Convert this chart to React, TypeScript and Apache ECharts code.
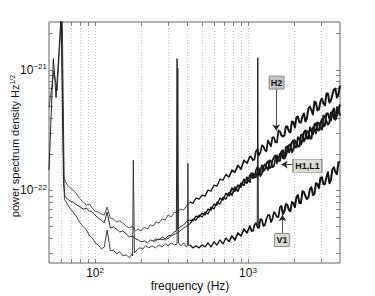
import React, { useEffect, useRef } from 'react';
import * as echarts from 'echarts';

// ---------- axes ----------
const X_MIN = 50;
const X_MAX = 4000;
const Y_MIN = 2.5e-23;
const Y_MAX = 2.5e-21;
const UNIT = 1e-23; // all ASD values below are in units of 1e-23 Hz^-1/2

const X_TICKS = [100, 1000];
const Y_TICKS = [1e-22, 1e-21];
const GRID_X = [60, 70, 80, 90, 100, 200, 300, 400, 500, 600, 700, 800, 900, 1000, 2000, 3000];
const GRID_Y = [3e-23, 4e-23, 5e-23, 6e-23, 7e-23, 8e-23, 9e-23, 1e-22, 2e-22, 3e-22, 4e-22, 5e-22, 6e-22, 7e-22, 8e-22, 9e-22, 1e-21, 2e-21];

// ---------- data: low-frequency parts ----------
const H2_LF_F = [50, 53.9, 56.5, 60.3, 62.5, 66, 69, 72, 76, 80, 84, 88, 92, 96, 100, 105, 110, 115, 120, 126, 132, 138, 145, 152, 160, 168, 176, 184, 192, 200, 210, 220, 230, 240, 250, 262, 275, 288, 300, 315, 330, 345, 360, 380, 400];
const H2_LF_V = [48.8, 98.6, 67.4, 281, 12.64, 11.06, 10.45, 10.06, 9.32, 8.47, 8.0, 7.56, 7.71, 7.14, 6.74, 6.62, 6.37, 6.25, 7.28, 5.9, 5.79, 5.47, 5.58, 5.37, 5.07, 4.88, 5.07, 4.61, 4.79, 4.61, 4.97, 4.79, 5.17, 5.07, 5.47, 5.37, 5.79, 5.68, 6.25, 6.02, 6.62, 6.49, 7.01, 6.87, 7.56];

const H1_LF_F = [50, 53.4, 55.6, 60, 62.2, 63.5, 66, 69, 72, 76, 80, 84, 88, 92, 96, 100, 105, 110, 115, 120, 126, 132, 138, 145, 152, 160, 168, 176, 184, 192, 200, 210, 220, 230, 240, 250, 262, 275, 288, 300, 315, 330, 340, 344, 348, 360, 380, 400];
const H1_LF_V = [14.72, 124, 59.0, 281, 11.49, 8.97, 8.47, 8.16, 8.0, 7.56, 7.28, 7.01, 7.14, 6.74, 6.62, 6.25, 5.9, 5.68, 5.37, 6.62, 4.88, 4.97, 4.79, 4.52, 4.61, 4.35, 4.11, 4.19, 3.96, 3.88, 3.74, 3.81, 3.67, 3.88, 3.81, 3.96, 3.88, 4.11, 3.96, 4.19, 4.27, 4.52, 4.61, 124, 4.79, 4.97, 5.17, 5.58];

const L1_LF_F = [240, 262, 288, 315, 345, 380, 400];
const L1_LF_V = [3.74, 3.96, 3.88, 4.19, 4.44, 4.88, 5.07];

const V1_LF_F = [61, 63, 66, 69, 72, 76, 80, 84, 88, 92, 96, 100, 105, 110, 115, 120, 126, 132, 138, 145, 152, 160, 168, 174, 176, 178, 181, 188, 196, 205, 215, 225, 236, 248, 262, 275, 288, 300, 315, 330, 344, 348, 352, 365, 380, 395, 403, 405, 408];
const V1_LF_V = [300, 8.47, 7.71, 7.01, 6.62, 6.02, 5.37, 4.97, 4.7, 4.19, 4.04, 3.67, 3.53, 3.27, 3.4, 4.7, 3.15, 3.21, 2.98, 3.09, 2.87, 2.92, 2.76, 2.98, 2.87, 17.8, 3.03, 3.21, 3.34, 3.27, 3.47, 3.34, 3.47, 3.34, 3.53, 3.4, 3.6, 3.47, 3.67, 3.53, 3.6, 104, 3.67, 3.47, 3.67, 3.4, 3.53, 16.81, 3.47];

// ---------- data: high-frequency noisy parts ----------
const F_HF = [418, 437, 457, 479, 501, 524, 548, 573, 600, 627, 656, 687, 718, 751, 786, 822, 860, 900, 942, 985, 1031, 1078, 1128, 1180, 1235, 1292, 1352, 1414, 1479, 1548, 1619, 1694, 1772, 1854, 1940, 2029, 2123, 2221, 2324, 2431, 2544, 2661, 2784, 2913, 3047, 3188, 3335, 3489, 3650, 3819, 3995];
const H2_HF = [8.0, 7.85, 8.64, 8.47, 9.15, 8.97, 10.06, 9.87, 11.06, 10.85, 12.4, 12.17, 13.64, 12.88, 14.72, 14.17, 16.18, 15.0, 17.8, 16.81, 19.21, 17.8, 21.12, 19.58, 23.68, 21.53, 26.04, 23.23, 27.57, 25.07, 30.91, 28.1, 33.99, 30.91, 37.38, 33.35, 41.11, 36.68, 43.53, 39.58, 49.73, 42.71, 53.66, 46.97, 57.89, 50.68, 63.67, 55.73, 68.7, 59.01, 74.13];
const H1_HF = [5.68, 5.58, 6.13, 6.02, 6.49, 6.25, 7.01, 6.87, 7.71, 7.56, 8.64, 8.32, 9.5, 8.97, 10.45, 9.87, 11.06, 10.65, 12.4, 11.49, 13.38, 12.64, 14.72, 13.38, 16.18, 15.0, 17.46, 15.58, 18.84, 16.81, 20.33, 18.49, 22.79, 20.72, 25.07, 22.79, 27.57, 24.13, 30.32, 27.05, 33.35, 29.19, 35.99, 31.5, 38.83, 34.64, 43.53, 38.1, 47.87, 41.9, 51.66];
const L1_HF = [5.27, 5.79, 5.68, 6.25, 6.02, 6.62, 6.37, 7.28, 7.01, 8.0, 7.71, 8.8, 8.47, 9.68, 9.15, 10.65, 9.87, 11.49, 11.06, 12.88, 11.71, 13.9, 12.88, 15.29, 13.9, 16.49, 14.72, 17.46, 15.88, 19.58, 17.46, 21.53, 19.58, 23.68, 20.72, 26.04, 23.23, 28.64, 25.55, 30.91, 27.05, 33.35, 29.75, 35.99, 32.11, 41.11, 35.31, 44.36, 39.58, 48.79, 41.9];
const V1_HF = [3.53, 3.34, 3.47, 3.34, 3.53, 3.4, 3.67, 3.4, 3.74, 3.53, 3.88, 3.6, 4.04, 3.74, 4.19, 3.88, 4.44, 4.19, 4.79, 4.44, 5.07, 4.61, 5.37, 4.88, 5.68, 5.17, 6.25, 5.47, 6.62, 6.02, 7.28, 6.37, 7.71, 6.87, 8.0, 7.28, 9.15, 7.85, 9.68, 8.47, 10.25, 9.15, 11.49, 10.45, 12.88, 11.28, 14.17, 12.17, 15.58, 13.64, 17.13];

// extra samples between the ones above (above ~1 kHz, where the noise is densest)
const F_MID = [1054, 1103, 1154, 1207, 1263, 1321, 1383, 1446, 1513, 1583, 1656, 1733, 1812, 1896, 1984, 2075, 2171, 2272, 2377, 2486, 2602, 2722, 2847, 2979, 3116, 3261, 3411, 3569, 3733, 3906];
const H2_MID = [18.84, 18.14, 21.94, 20.72, 23.23, 21.12, 24.6, 27.57, 25.07, 31.5, 28.64, 28.64, 33.99, 30.32, 36.68, 40.34, 36.68, 41.11, 37.38, 47.87, 46.08, 54.69, 46.08, 54.69, 52.65, 63.67, 53.66, 62.47, 70.02, 62.47];
const H1_MID = [13.9, 12.88, 15.58, 14.44, 14.44, 16.81, 15.29, 17.8, 19.58, 18.14, 20.33, 18.49, 23.23, 22.36, 26.04, 22.79, 27.05, 26.04, 31.5, 27.05, 31.5, 35.31, 32.11, 35.99, 33.99, 43.53, 39.58, 45.21, 38.83, 46.08];
const L1_MID = [13.64, 12.88, 14.17, 13.13, 15.88, 15.58, 17.8, 15.58, 18.49, 17.8, 21.12, 18.49, 21.53, 24.13, 21.94, 24.6, 23.23, 29.19, 27.05, 30.91, 27.05, 32.11, 36.68, 32.72, 41.9, 37.38, 36.68, 44.36, 38.83, 46.97];
const V1_MID = [4.61, 5.17, 4.97, 5.79, 5.07, 5.79, 6.25, 5.79, 6.37, 6.02, 7.42, 6.74, 7.56, 6.74, 7.85, 8.8, 7.85, 9.87, 8.97, 8.8, 10.65, 9.32, 11.28, 12.64, 11.28, 12.88, 11.49, 15.0, 14.17, 17.13];

const V1_SPIKE_F = [1150, 1160, 1170];
const V1_SPIKE_V = [5.17, 126, 5.07];

// ---------- annotations ----------
const LABELS = ['H2', 'H1,L1', 'V1'];
const LABEL_F = [1540, 2449, 1673];
const LABEL_V = [7.85e-22, 1.6e-22, 3.88e-23];
const ARROW_FROM_F = [1530, 1968, 1683];
const ARROW_FROM_V = [6.9e-22, 1.64e-22, 4.44e-23];
const ARROW_TO_F = [1530, 1660, 1683];
const ARROW_TO_V = [3.15e-22, 1.64e-22, 6.25e-23];

// ---------- styles ----------
const FONT = '"Liberation Sans", Arial, Helvetica, sans-serif';
const LABEL_STYLE = {
  widths: [15, 29, 15],
  fills: ['#c4c4c4', '#dcddd4', '#d9dbd2'],
};
// noisy bands drawn a little thicker as they widen: [from Hz, to Hz, line width]
const HF_SEGMENTS: [number, number, number][] = [
  [418, 751, 1.3],
  [751, 1619, 1.7],
  [1619, 4000, 2.0],
];

const pairs = (f: number[], v: number[]) => f.map((x, i) => [x, v[i] * UNIT]);
const lfData = (f: number[], v: number[], hf: number[]) => pairs(f, v).concat([[F_HF[0], hf[0] * UNIT]]);

const isPow = (v: number, list: number[]) => list.some((t) => Math.abs(v - t) / t < 1e-6);

function lineSeries(data: number[][], color: string, width: number) {
  return {
    type: 'line',
    data,
    symbol: 'none',
    showSymbol: false,
    silent: true,
    clip: true,
    z: 3,
    lineStyle: { color, width, join: 'round' },
    itemStyle: { color },
  };
}

function hfSeries(values: number[], mids: number[], color: string) {
  const all = pairs(F_HF, values)
    .concat(pairs(F_MID, mids))
    .sort((a, b) => a[0] - b[0]);
  return HF_SEGMENTS.map(([a, b, w]) =>
    lineSeries(all.filter((p) => p[0] >= a && p[0] <= b), color, w)
  );
}

function buildOption() {
  const XTF = Math.pow(10, 4 / 153);
  const YTF = Math.pow(10, 4 / 120.5);
  const tickSegs: any[] = [];
  GRID_X.forEach((x) => {
    tickSegs.push([{ coord: [x, Y_MIN] }, { coord: [x, Y_MIN * YTF] }]);
    tickSegs.push([{ coord: [x, Y_MAX] }, { coord: [x, Y_MAX / YTF] }]);
  });
  GRID_Y.forEach((y) => {
    tickSegs.push([{ coord: [X_MIN, y] }, { coord: [X_MIN * XTF, y] }]);
    tickSegs.push([{ coord: [X_MAX, y] }, { coord: [X_MAX / XTF, y] }]);
  });

  const rich = {
    b: { fontSize: 12, lineHeight: 14, fontFamily: FONT, color: '#111' },
    s: { fontSize: 8, lineHeight: 8, verticalAlign: 'top', fontFamily: FONT, color: '#111' },
  };

  return {
    animation: false,
    backgroundColor: '#ffffff',
    grid: { left: 49, right: 35, top: 22, bottom: 33, show: true, borderColor: '#666', borderWidth: 1 },
    xAxis: {
      type: 'log',
      logBase: 10,
      min: X_MIN,
      max: X_MAX,
      axisLine: { show: false },
      axisTick: { show: false },
      splitLine: { show: false },
      axisLabel: {
        margin: 3,
        showMinLabel: false,
        showMaxLabel: false,
        formatter: (v: number) => (isPow(v, X_TICKS) ? `{b|10}{s|${Math.round(Math.log10(v))}}` : ''),
        rich,
      },
    },
    yAxis: {
      type: 'log',
      logBase: 10,
      min: Y_MIN,
      max: Y_MAX,
      axisLine: { show: false },
      axisTick: { show: false },
      splitLine: { show: false },
      axisLabel: {
        margin: 2,
        showMinLabel: false,
        showMaxLabel: false,
        formatter: (v: number) => (isPow(v, Y_TICKS) ? `{b|10}{s|\u2212${-Math.round(Math.log10(v))}}` : ''),
        rich,
      },
    },
    graphic: [
      {
        type: 'text',
        x: 190,
        y: 286,
        silent: true,
        style: {
          text: 'frequency (Hz)',
          fontSize: 12,
          fontFamily: FONT,
          fill: '#111',
          align: 'center',
          verticalAlign: 'middle',
          textAlign: 'center',
          textVerticalAlign: 'middle',
        },
      },
      {
        type: 'text',
        x: 15,
        y: 146,
        rotation: Math.PI / 2,
        silent: true,
        style: {
          text: 'power spectrum density Hz{s|1/2}',
          fontSize: 11,
          lineHeight: 13,
          fontFamily: FONT,
          fill: '#111',
          align: 'center',
          verticalAlign: 'middle',
          textAlign: 'center',
          textVerticalAlign: 'middle',
          rich: { s: { fontSize: 7, lineHeight: 7, verticalAlign: 'top', fontFamily: FONT, fill: '#111' } },
        },
      },
    ],
    series: [
      {
        type: 'line',
        data: [[X_MIN, Y_MIN]],
        symbol: 'none',
        silent: true,
        z: 1,
        lineStyle: { opacity: 0 },
        markLine: {
          silent: true,
          animation: false,
          z: 1,
          symbol: 'none',
          label: { show: false },
          lineStyle: { color: '#b4b4b4', width: 0.8, type: [1, 2] },
          data: [...GRID_X.map((x) => ({ xAxis: x })), ...GRID_Y.map((y) => ({ yAxis: y }))],
        },
      },
      {
        type: 'line',
        data: [[X_MIN, Y_MIN]],
        symbol: 'none',
        silent: true,
        z: 1,
        lineStyle: { opacity: 0 },
        markLine: {
          silent: true,
          animation: false,
          z: 2,
          symbol: 'none',
          label: { show: false },
          lineStyle: { color: '#666', width: 0.8, type: 'solid' },
          data: tickSegs,
        },
      },
      lineSeries(lfData(H2_LF_F, H2_LF_V, H2_HF), '#3c3c3c', 0.9),
      ...hfSeries(H2_HF, H2_MID, '#141414'),
      lineSeries(lfData(H1_LF_F, H1_LF_V, H1_HF), '#111', 0.9),
      lineSeries(lfData(L1_LF_F, L1_LF_V, L1_HF), '#222', 0.9),
      ...hfSeries(H1_HF, H1_MID, '#111'),
      ...hfSeries(L1_HF, L1_MID, '#1a1a1a'),
      lineSeries(lfData(V1_LF_F, V1_LF_V, V1_HF), '#2a2a2a', 0.9),
      ...hfSeries(V1_HF, V1_MID, '#141414'),
      lineSeries(pairs(V1_SPIKE_F, V1_SPIKE_V), '#111', 0.9),
      {
        type: 'line',
        data: [[X_MIN, Y_MIN]],
        symbol: 'none',
        silent: true,
        z: 10,
        lineStyle: { opacity: 0 },
        markLine: {
          silent: true,
          animation: false,
          z: 10,
          symbol: ['none', 'arrow'],
          symbolSize: 6,
          label: { show: false },
          lineStyle: { color: '#222', width: 0.8, type: 'solid' },
          data: LABELS.map((_, i) => [
            { coord: [ARROW_FROM_F[i], ARROW_FROM_V[i]] },
            { coord: [ARROW_TO_F[i], ARROW_TO_V[i]] },
          ]),
        },
        markPoint: {
          silent: true,
          animation: false,
          z: 11,
          data: LABELS.map((t, i) => ({
            coord: [LABEL_F[i], LABEL_V[i]],
            symbol: 'rect',
            symbolSize: [LABEL_STYLE.widths[i], 13],
            itemStyle: { color: LABEL_STYLE.fills[i], borderColor: '#777', borderWidth: 0.8 },
            label: {
              show: true,
              position: 'inside',
              formatter: t,
              fontSize: 9,
              fontWeight: 'bold',
              fontFamily: FONT,
              color: '#111',
            },
          })),
        },
      },
    ],
  };
}

export default function App() {
  const ref = useRef<HTMLDivElement>(null);
  useEffect(() => {
    if (!ref.current) return;
    const chart = echarts.init(ref.current, null, { renderer: 'svg' });
    chart.setOption(buildOption() as any);
    return () => chart.dispose();
  }, []);
  return (
    <div
      ref={ref}
      style={{ position: 'absolute', left: 0, top: 0, width: 375, height: 296, background: '#fff' }}
    />
  );
}
